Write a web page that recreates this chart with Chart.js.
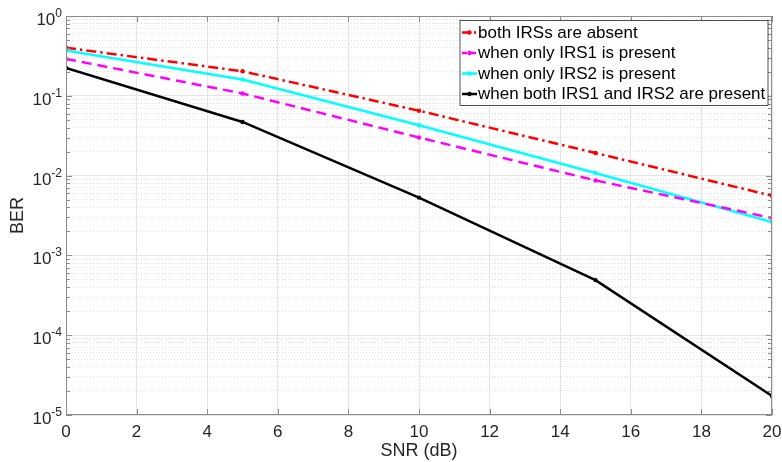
<!DOCTYPE html>
<html><head><meta charset="utf-8">
<script src="https://cdn.jsdelivr.net/npm/chart.js@4.4.1/dist/chart.umd.min.js"></script>
<style>html,body{margin:0;padding:0;background:#fff;}#wrap{width:782px;height:462px;position:relative}</style>
</head><body><div id="wrap"><canvas id="c" width="782" height="462"></canvas></div>
<script>
const snr = [0, 5, 10, 15, 20];
const berAbsent = [0.40, 0.203, 0.065, 0.0192, 0.0056];
const berIRS1 = [0.29, 0.107, 0.0300, 0.0087, 0.00294];
const berIRS2 = [0.37, 0.160, 0.0428, 0.0108, 0.00262];
const berBoth = [0.224, 0.047, 0.0053, 0.00049, 0.0000173];
const seriesLabels = ['both IRSs are absent', 'when only IRS1 is present', 'when only IRS2 is present', 'when both IRS1 and IRS2 are present'];
const xTicks = [0, 2, 4, 6, 8, 10, 12, 14, 16, 18, 20];
const yDecades = [-5, -4, -3, -2, -1, 0];
const xTitle = 'SNR (dB)';
const yTitle = 'BER';

const FONT = "'Liberation Sans', Arial, Helvetica, sans-serif";
function pts(arr){ return snr.map((x, i) => ({x: x, y: arr[i]})); }
function isMajor(v){ const l = Math.log10(v); return Math.abs(l - Math.round(l)) < 1e-9; }

const styles = [
  {color: '#ff0000', dash: [10, 4, 2.5, 4]},
  {color: '#ff00ff', dash: [10, 6]},
  {color: '#00ffff', dash: []},
  {color: '#000000', dash: []}
];
const seriesData = [berAbsent, berIRS1, berIRS2, berBoth];

const datasets = seriesData.map((arr, i) => ({
  label: seriesLabels[i],
  data: pts(arr),
  borderColor: styles[i].color,
  backgroundColor: styles[i].color,
  borderDash: styles[i].dash,
  borderWidth: 2.5,
  pointRadius: 2.2,
  pointBorderWidth: 0,
  pointBackgroundColor: styles[i].color,
  tension: 0,
  fill: false
}));

const boxPlugin = {
  id: 'box',
  afterDraw(chart){
    const {ctx, chartArea: a} = chart;
    const ys = chart.scales.y, xs = chart.scales.x;
    ctx.save();
    ctx.strokeStyle = '#8c8c8c';
    ctx.lineWidth = 1;
    ctx.beginPath();
    ys.ticks.forEach(t => {
      const y = Math.round(ys.getPixelForValue(t.value)) + 0.5;
      const len = isMajor(t.value) ? 6 : 4;
      ctx.moveTo(a.left, y); ctx.lineTo(a.left + len, y);
      ctx.moveTo(a.right, y); ctx.lineTo(a.right - len, y);
    });
    xs.ticks.forEach(t => {
      const x = Math.round(xs.getPixelForValue(t.value)) + 0.5;
      ctx.moveTo(x, a.bottom); ctx.lineTo(x, a.bottom - 6);
      ctx.moveTo(x, a.top); ctx.lineTo(x, a.top + 6);
    });
    ctx.stroke();
    ctx.strokeRect(a.left + 0.5, a.top + 0.5, a.right - a.left - 1, a.bottom - a.top - 1);
    ctx.fillStyle = '#262626';
    ctx.textAlign = 'right';
    ctx.textBaseline = 'alphabetic';
    ys.ticks.forEach(t => {
      if (!isMajor(t.value)) return;
      const y = ys.getPixelForValue(t.value);
      const e = String(Math.round(Math.log10(t.value)));
      ctx.font = '12px ' + FONT;
      const ew = ctx.measureText(e).width;
      ctx.fillText(e, a.left - 4, y + 1);
      ctx.font = '17px ' + FONT;
      ctx.fillText('10', a.left - 4 - ew, y + 9);
    });
    const bx = a.right - 312, by = a.top + 4.5, bw = 308, bh = 85;
    ctx.textAlign = 'left';
    ctx.fillStyle = '#ffffff';
    ctx.fillRect(bx, by, bw, bh);
    ctx.strokeStyle = '#262626';
    ctx.lineWidth = 0.8;
    ctx.strokeRect(bx, by, bw, bh);
    ctx.font = '17px ' + FONT;
    ctx.textBaseline = 'middle';
    chart.data.datasets.forEach((ds, i) => {
      const y = by + 12 + i * 20.5;
      const x0 = bx + 2, x1 = bx + 17;
      ctx.strokeStyle = ds.borderColor;
      ctx.lineWidth = 2.5;
      if (ds.borderDash.length === 4) ctx.setLineDash([9, 3, 2, 3]);
      else if (ds.borderDash.length === 2) ctx.setLineDash([5, 4]);
      else ctx.setLineDash([]);
      ctx.beginPath(); ctx.moveTo(x0, y); ctx.lineTo(x1, y); ctx.stroke();
      ctx.setLineDash([]);
      ctx.fillStyle = ds.borderColor;
      ctx.beginPath(); ctx.arc((x0 + x1) / 2, y, 2.2, 0, Math.PI * 2); ctx.fill();
      ctx.fillStyle = '#000';
      ctx.fillText(ds.label, bx + 18, y + 0.5);
    });
    ctx.restore();
  }
};

new Chart(document.getElementById('c'), {
  type: 'line',
  data: {datasets: datasets},
  plugins: [boxPlugin],
  options: {
    responsive: false,
    animation: false,
    devicePixelRatio: 1,
    layout: {padding: {top: 16, right: 10, left: 0, bottom: 0}},
    plugins: {legend: {display: false}, tooltip: {enabled: false}},
    scales: {
      x: {
        type: 'linear', min: 0, max: 20,
        afterBuildTicks(scale){ scale.ticks = xTicks.map(v => ({value: v})); },
        afterFit(scale){ scale.height = 47; scale.paddingLeft = 0; scale.paddingRight = 0; },
        ticks: {color: '#262626', font: {family: FONT, size: 17}, padding: 7, maxRotation: 0, autoSkip: false},
        grid: {color: '#e4e4e4', lineWidth: 1, drawTicks: false},
        border: {display: false},
        title: {display: true, text: xTitle, color: '#262626', font: {family: FONT, size: 18}, padding: {top: 0, bottom: 0}}
      },
      y: {
        type: 'logarithmic', min: 1e-5, max: 1,
        afterBuildTicks(scale){
          const t = [];
          yDecades.forEach(d => {
            for (let m = 1; m <= 9; m++) {
              const v = m * Math.pow(10, d);
              t.push({value: v});
              if (d === 0) break;
            }
          });
          scale.ticks = t;
        },
        afterFit(scale){ scale.width = 66; scale.paddingTop = 0; scale.paddingBottom = 0; },
        ticks: {display: false, autoSkip: false},
        grid: {
          drawTicks: false,
          color: ctx => (ctx.tick && isMajor(ctx.tick.value)) ? '#e4e4e4' : '#e0e0e0',
          lineWidth: 1
        },
        border: {
          display: false,
          dash: ctx => (ctx.tick && !isMajor(ctx.tick.value)) ? [1, 2] : []
        },
        title: {display: true, text: yTitle, color: '#262626', font: {family: FONT, size: 18}, padding: {top: 7, bottom: 0}}
      }
    }
  }
});
</script></body></html>
